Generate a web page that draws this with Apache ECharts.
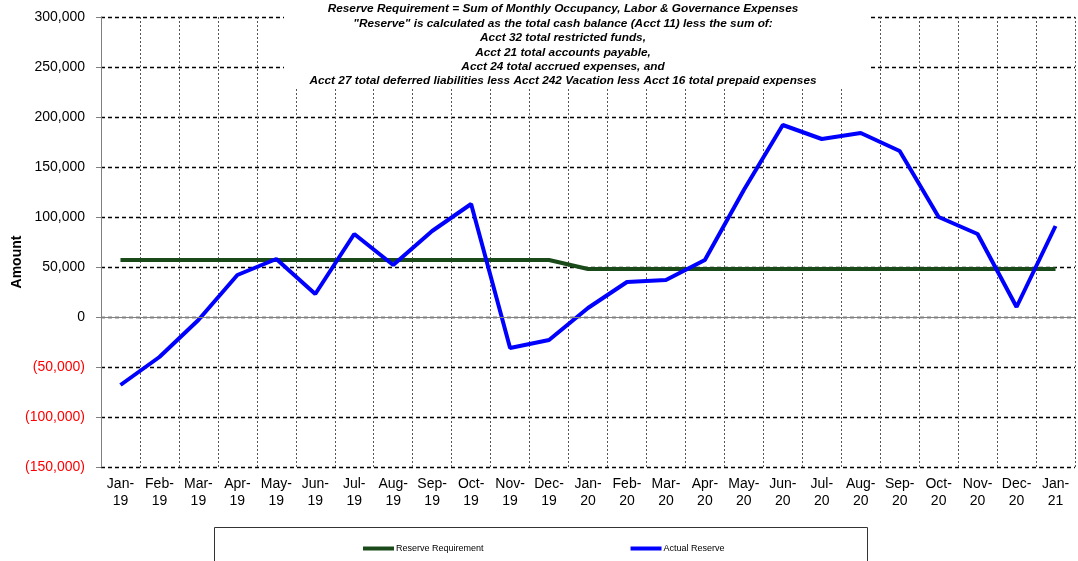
<!DOCTYPE html>
<html>
<head>
<meta charset="utf-8">
<script src="https://cdn.jsdelivr.net/npm/echarts@6/dist/echarts.min.js"></script>
<style>
  html, body { margin: 0; padding: 0; background: #fff; }
  #chart { width: 1078px; height: 561px; }
</style>
</head>
<body>
<div id="chart"></div>
<script>
// months on the x axis
var months = ['Jan-19', 'Feb-19', 'Mar-19', 'Apr-19', 'May-19', 'Jun-19', 'Jul-19', 'Aug-19', 'Sep-19', 'Oct-19', 'Nov-19', 'Dec-19',
              'Jan-20', 'Feb-20', 'Mar-20', 'Apr-20', 'May-20', 'Jun-20', 'Jul-20', 'Aug-20', 'Sep-20', 'Oct-20', 'Nov-20', 'Dec-20', 'Jan-21'];

var reserveRequirement = [57000, 57000, 57000, 57000, 57000, 57000, 57000, 57000, 57000, 57000, 57000, 57000,
                          48000, 48000, 48000, 48000, 48000, 48000, 48000, 48000, 48000, 48000, 48000, 48000, 48000];

var actualReserve = [-68000, -40000, -3000, 42000, 58000, 23000, 83000, 52000, 86000, 113000, -31000, -23000,
                     9000, 35000, 37000, 57000, 127000, 192000, 178000, 184000, 166000, 100000, 83000, 10000, 91000];

var titleLines = [
    'Reserve Requirement = Sum of Monthly Occupancy, Labor & Governance Expenses',
    '"Reserve" is calculated as the total cash balance (Acct 11) less the sum of:',
    'Acct 32 total restricted funds,',
    'Acct 21 total accounts payable,',
    'Acct 24 total accrued expenses, and',
    'Acct 27 total deferred liabilities less Acct 242 Vacation less Acct 16 total prepaid expenses'
];

function fmtAmount(v) {
    if (v === 0) return '0';
    var s = Math.abs(v).toLocaleString('en-US');
    return v < 0 ? '{neg|(' + s + ')}' : s;
}

var chartDom = document.getElementById('chart');
var myChart = echarts.init(chartDom);
var font = '"Liberation Sans", Arial, sans-serif';

var option = {
    backgroundColor: '#fff',
    animation: false,
    textStyle: { fontFamily: font },
    grid: { left: 101, right: 3, top: 17, bottom: 94 },
    title: {
        text: titleLines.join('\n'),
        left: 558,
        textAlign: 'center',
        top: -3,
        textStyle: {
            fontFamily: font,
            fontSize: 11.8,
            fontStyle: 'italic',
            fontWeight: 'bold',
            lineHeight: 14.4,
            color: '#000'
        }
    },
    graphic: [
        { type: 'rect', z: 5, shape: { x: 284, y: 0, width: 586, height: 87 }, style: { fill: '#fff' } },
        { type: 'rect', z: 5, shape: { x: 214.5, y: 527.5, width: 653, height: 50 }, style: { fill: '#fff', stroke: '#333', lineWidth: 1 } },
        {
            type: 'text', z: 5, x: 17, y: 262, rotation: Math.PI / 2,
            style: { text: 'Amount', font: 'bold 14px ' + font, fill: '#000', align: 'center', verticalAlign: 'middle' }
        }
    ],
    legend: {
        z: 10,
        left: 358,
        top: 539,
        itemGap: 147,
        itemWidth: 31,
        itemHeight: 4,
        icon: 'rect',
        textStyle: { fontFamily: font, fontSize: 9, color: '#000', padding: [0, 0, 0, -3] },
        data: ['Reserve Requirement', 'Actual Reserve']
    },
    xAxis: {
        type: 'category',
        data: months,
        boundaryGap: true,
        axisLine: { show: false },
        axisTick: { show: false },
        axisLabel: {
            interval: 0,
            fontSize: 14,
            lineHeight: 17,
            color: '#000',
            margin: 9,
            formatter: function (v) { return v.replace('-', '-\n'); }
        },
        splitLine: { show: true, interval: 0, lineStyle: { color: '#555', type: [2, 2], width: 1 } }
    },
    yAxis: {
        type: 'value',
        min: -150000,
        max: 300000,
        interval: 50000,
        axisLine: { show: true, lineStyle: { color: '#808080', width: 1 } },
        axisTick: { show: true, length: 5, lineStyle: { color: '#808080' } },
        axisLabel: {
            fontSize: 14,
            color: '#000',
            margin: 16,
            formatter: fmtAmount,
            rich: { neg: { color: '#ff0000', fontSize: 14, fontFamily: font } }
        },
        splitLine: { show: true, lineStyle: { color: '#000', type: [4, 3], width: 1.3 } }
    },
    series: [
        {
            name: 'Reserve Requirement',
            type: 'line',
            data: reserveRequirement,
            symbol: 'none',
            itemStyle: { color: '#1a4a1a' },
            lineStyle: { color: '#1a4a1a', width: 4 },
            z: 3,
            markLine: {
                silent: true,
                symbol: 'none',
                label: { show: false },
                lineStyle: { color: '#808080', type: 'solid', width: 1.2 },
                data: [{ yAxis: 0 }]
            }
        },
        {
            name: 'Actual Reserve',
            type: 'line',
            data: actualReserve,
            symbol: 'none',
            itemStyle: { color: '#0000ff' },
            lineStyle: { color: '#0000ff', width: 4 },
            z: 4
        }
    ]
};
myChart.setOption(option);
</script>
</body>
</html>
